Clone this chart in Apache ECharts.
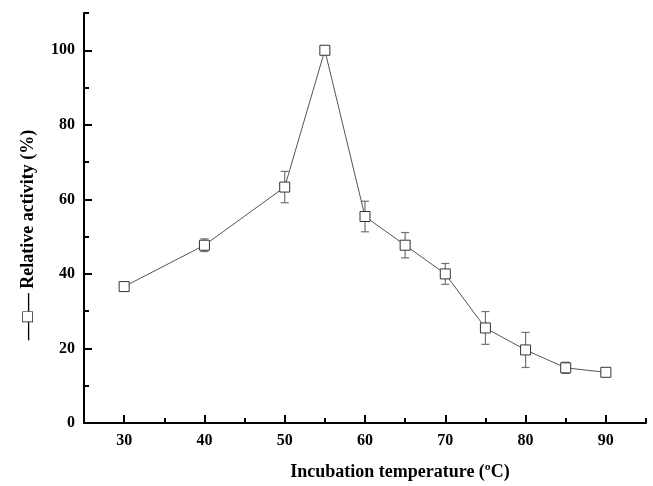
<!DOCTYPE html>
<html>
<head>
<meta charset="utf-8">
<script src="https://cdn.jsdelivr.net/npm/echarts@6/dist/echarts.min.js"></script>
<style>
  html, body { margin: 0; padding: 0; background: #fff; }
  #chart { width: 653px; height: 486px; }
</style>
</head>
<body>
<div id="chart"></div>
<script>
var temps    = [30, 40, 50, 55, 60, 65, 70, 75, 80, 85, 90];
var activity = [36.6, 47.7, 63.3, 100, 55.4, 47.7, 40.0, 25.5, 19.6, 14.8, 13.6];
var errors   = [0.9, 1.7, 4.2, 0, 4.1, 3.4, 2.8, 4.4, 4.7, 1.5, 1.0];
var xMajorTicks = [30, 40, 50, 60, 70, 80, 90];
var yMajorTicks = [0, 20, 40, 60, 80, 100];

var serif = 'Liberation Serif';

var lineData = temps.map(function (t, i) { return [t, activity[i]]; });
var errData = temps.map(function (t, i) { return [t, activity[i] - errors[i], activity[i] + errors[i]]; });

var myChart = echarts.init(document.getElementById('chart'));
var option = {
    animation: false,
    backgroundColor: '#fff',
    grid: { left: 84, right: 7, top: 13, bottom: 57 },
    xAxis: [
        {
            type: 'value', min: 25, max: 95, interval: 5,
            name: 'Incubation temperature (\u00baC)',
            nameLocation: 'middle', nameGap: 40,
            nameTextStyle: { fontFamily: serif, fontWeight: 'bold', fontSize: 18, color: '#000', padding: [0, 0, 0, 70] },
            axisLine: { lineStyle: { color: '#000', width: 2 } },
            axisTick: { inside: true, length: 5, lineStyle: { color: '#000', width: 2 } },
            axisLabel: {
                margin: 10, fontFamily: serif, fontWeight: 'bold', fontSize: 16, color: '#000',
                formatter: function (v) { return v % 10 === 0 ? String(v) : ''; }
            },
            splitLine: { show: false }
        },
        {
            type: 'value', min: 25, max: 95, position: 'bottom',
            axisLine: { show: false },
            axisTick: { inside: true, length: 8, customValues: xMajorTicks, lineStyle: { color: '#000', width: 2 } },
            axisLabel: { show: false },
            splitLine: { show: false }
        }
    ],
    yAxis: [
        {
            type: 'value', min: 0, max: 110, interval: 10,
            name: '\u2014\u25A1\u2014 Relative activity (%)',
            nameLocation: 'middle', nameGap: 47,
            nameTextStyle: { fontFamily: serif, fontWeight: 'bold', fontSize: 18, color: '#000', padding: [0, 34, 0, 0] },
            axisLine: { show: true, lineStyle: { color: '#000', width: 2 } },
            axisTick: { show: true, inside: true, length: 5, lineStyle: { color: '#000', width: 2 } },
            axisLabel: {
                margin: 9, fontFamily: serif, fontWeight: 'bold', fontSize: 16, color: '#000',
                formatter: function (v) { return (v % 20 === 0 && v <= 100) ? String(v) : ''; }
            },
            splitLine: { show: false }
        },
        {
            type: 'value', min: 0, max: 110, position: 'left',
            axisLine: { show: false },
            axisTick: { show: true, inside: true, length: 8, customValues: yMajorTicks, lineStyle: { color: '#000', width: 2 } },
            axisLabel: { show: false },
            splitLine: { show: false }
        }
    ],
    series: [
        {
            name: 'error',
            type: 'custom',
            xAxisIndex: 0, yAxisIndex: 0,
            z: 1,
            data: errData,
            renderItem: function (params, api) {
                var x = api.value(0);
                var lo = api.coord([x, api.value(1)]);
                var hi = api.coord([x, api.value(2)]);
                if (Math.abs(lo[1] - hi[1]) < 0.5) return null;
                var w = 4;
                var style = { stroke: '#707070', lineWidth: 1.2 };
                return {
                    type: 'group',
                    children: [
                        { type: 'line', shape: { x1: lo[0], y1: lo[1], x2: hi[0], y2: hi[1] }, style: style },
                        { type: 'line', shape: { x1: lo[0] - w, y1: lo[1], x2: lo[0] + w, y2: lo[1] }, style: style },
                        { type: 'line', shape: { x1: hi[0] - w, y1: hi[1], x2: hi[0] + w, y2: hi[1] }, style: style }
                    ]
                };
            }
        },
        {
            name: 'Relative activity',
            type: 'line',
            xAxisIndex: 0, yAxisIndex: 0,
            z: 2,
            data: lineData,
            symbol: 'rect',
            symbolSize: 10,
            showAllSymbol: true,
            lineStyle: { color: '#555', width: 1 },
            itemStyle: { color: '#fff', borderColor: '#333', borderWidth: 1 }
        }
    ]
};
myChart.setOption(option);
</script>
</body>
</html>
